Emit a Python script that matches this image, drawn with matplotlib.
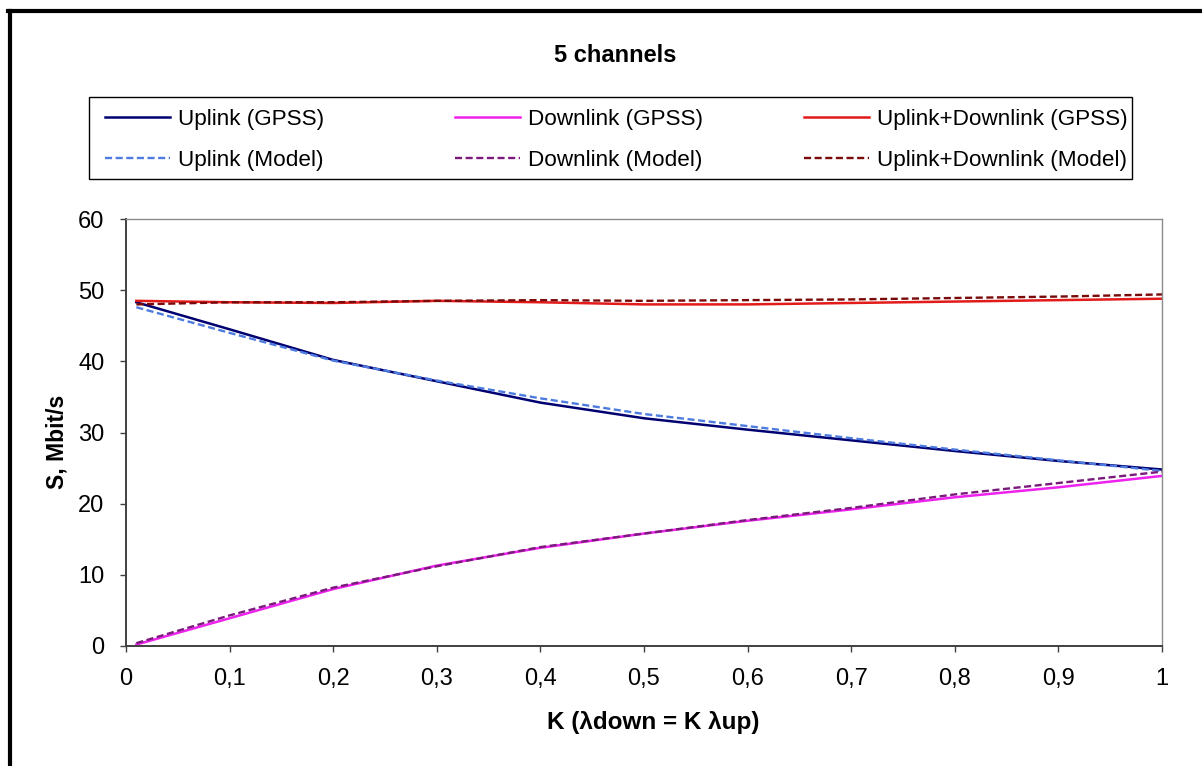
import matplotlib
matplotlib.use("Agg")
import matplotlib.pyplot as plt
from matplotlib.lines import Line2D
from matplotlib.patches import Rectangle

plt.rcParams['font.family'] = ['Liberation Sans', 'DejaVu Sans']

k_values = [0.01, 0.1, 0.2, 0.3, 0.4, 0.5, 0.6, 0.7, 0.8, 0.9, 1.0]
uplink_gpss = [48.3, 44.5, 40.2, 37.2, 34.2, 32.0, 30.4, 28.9, 27.4, 26.0, 24.8]
uplink_model = [47.6, 44.0, 40.1, 37.3, 34.8, 32.6, 30.9, 29.2, 27.6, 26.1, 24.6]
downlink_gpss = [0.2, 3.9, 8.0, 11.3, 13.8, 15.8, 17.6, 19.2, 20.9, 22.3, 23.9]
downlink_model = [0.4, 4.3, 8.2, 11.2, 13.9, 15.8, 17.7, 19.4, 21.3, 22.9, 24.5]
total_gpss = [48.5, 48.3, 48.2, 48.5, 48.3, 48.0, 48.0, 48.2, 48.4, 48.6, 48.8]
total_model = [48.0, 48.3, 48.3, 48.5, 48.6, 48.5, 48.6, 48.7, 48.9, 49.1, 49.4]

x_ticks = [0, 0.1, 0.2, 0.3, 0.4, 0.5, 0.6, 0.7, 0.8, 0.9, 1]
x_tick_labels = ["0", "0,1", "0,2", "0,3", "0,4", "0,5", "0,6", "0,7", "0,8", "0,9", "1"]
y_ticks = [0, 10, 20, 30, 40, 50, 60]

W, H = 1202, 766
fig = plt.figure(figsize=(W / 100, H / 100), dpi=100)

def fx(px):
    return px / W

def fy(py):
    return 1 - py / H

ax = fig.add_axes([fx(126), fy(646), fx(1162) - fx(126), fy(219) - fy(646)])

dash = (3, 1.5)
l1, = ax.plot(k_values, uplink_gpss, color="#000070", lw=1.8, label="Uplink (GPSS)")
l2, = ax.plot(k_values, uplink_model, color="#4d7be0", lw=1.7, dashes=dash, label="Uplink (Model)")
l3, = ax.plot(k_values, downlink_gpss, color="#ee22ee", lw=1.8, label="Downlink (GPSS)")
l4, = ax.plot(k_values, downlink_model, color="#7a1a7a", lw=1.7, dashes=dash, label="Downlink (Model)")
l5, = ax.plot(k_values, total_gpss, color="#e31a1a", lw=1.8, label="Uplink+Downlink (GPSS)")
l6, = ax.plot(k_values, total_model, color="#7a0a0a", lw=1.7, dashes=dash, label="Uplink+Downlink (Model)")

ax.set_xlim(0, 1)
ax.set_ylim(0, 60)
ax.set_xticks(x_ticks)
ax.set_xticklabels(x_tick_labels)
ax.set_yticks(y_ticks)
ax.tick_params(axis='both', direction='out', length=4.5, width=1.0, color="#404040",
               labelsize=17, pad=11)
for s in ['left', 'bottom']:
    ax.spines[s].set_color("#404040")
    ax.spines[s].set_linewidth(1.4)
for s in ['top', 'right']:
    ax.spines[s].set_color("#8c8c8c")
    ax.spines[s].set_linewidth(1.0)

fig.text(fx(615), fy(55), "5 channels", ha='center', va='center', fontsize=17, fontweight='bold')
fig.text(fx(653), fy(722), "K (λdown = K λup)", ha='center', va='center', fontsize=17.5, fontweight='bold')
fig.text(fx(57), fy(442), "S, Mbit/s", ha='center', va='center', rotation=90, fontsize=16.5, fontweight='bold')

# Legend frame
fig.patches.append(Rectangle((fx(89), fy(179)), fx(1132) - fx(89), fy(97) - fy(179),
                             transform=fig.transFigure, fill=False, edgecolor="black", lw=1.0))
columns = [(105, [l1, l2]), (455, [l3, l4]), (804, [l5, l6])]
for xpos, hs in columns:
    fig.legend(handles=hs, loc='upper left', bbox_to_anchor=(fx(xpos), fy(109)),
               frameon=False, borderpad=0, borderaxespad=0, fontsize=16.2,
               handlelength=2.9, handletextpad=0.35, labelspacing=0.9)

# outer border (left and top)
fig.add_artist(Line2D([fx(9.5), fx(9.5)], [0, fy(11)], transform=fig.transFigure, color="black", lw=3))
fig.add_artist(Line2D([fx(8), 1], [fy(11), fy(11)], transform=fig.transFigure, color="black", lw=3))

fig.savefig("out.png", dpi=100)
